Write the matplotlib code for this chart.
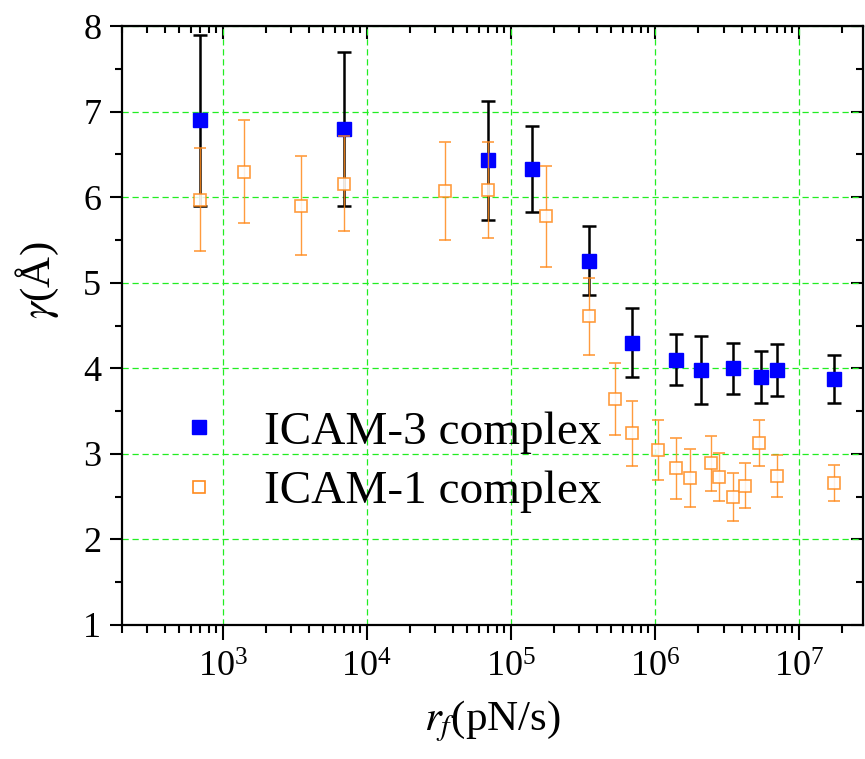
import matplotlib
matplotlib.use('Agg')
import matplotlib.pyplot as plt
from matplotlib.lines import Line2D
from matplotlib.ticker import LogLocator, MultipleLocator, NullFormatter

plt.rcParams['font.family'] = ['Liberation Serif', 'DejaVu Serif']
plt.rcParams['mathtext.fontset'] = 'stix'

# ICAM-3 complex (filled blue squares)
icam3_rf = [700, 7000, 7e4, 1.4e5, 3.5e5, 7e5, 1.4e6, 2.1e6, 3.5e6, 5.5e6, 7e6, 1.75e7]
icam3_gamma = [6.90, 6.80, 6.43, 6.33, 5.26, 4.30, 4.10, 3.98, 4.00, 3.90, 3.98, 3.87]
icam3_err = [1.0, 0.9, 0.70, 0.50, 0.40, 0.40, 0.30, 0.40, 0.30, 0.30, 0.30, 0.28]

# ICAM-1 complex (open orange squares)
icam1_rf = [700, 1400, 3500, 7000, 3.5e4, 7e4, 1.75e5, 3.5e5, 5.3e5, 7e5, 1.05e6,
            1.4e6, 1.75e6, 2.45e6, 2.8e6, 3.5e6, 4.2e6, 5.25e6, 7e6, 1.75e7]
icam1_gamma = [5.97, 6.30, 5.90, 6.16, 6.07, 6.08, 5.78, 4.61, 3.64, 3.24, 3.04,
               2.83, 2.72, 2.89, 2.73, 2.50, 2.63, 3.13, 2.74, 2.66]
icam1_err = [0.60, 0.60, 0.58, 0.56, 0.57, 0.56, 0.59, 0.45, 0.42, 0.38, 0.35,
             0.36, 0.34, 0.32, 0.28, 0.28, 0.26, 0.27, 0.25, 0.21]

labels = ['ICAM-3 complex', 'ICAM-1 complex']
orange = '#ff8a1c'

fig = plt.figure(figsize=(8.65, 7.59), dpi=100)
ax = fig.add_axes([0.141, 0.1766, 0.857, 0.789])

ax.errorbar(icam3_rf, icam3_gamma, yerr=icam3_err, fmt='s', color='black',
            mfc='#0000ff', mec='#0000ff', ms=9.5, elinewidth=1.8, capsize=4.8,
            capthick=1.8, zorder=3)
ax.errorbar(icam1_rf, icam1_gamma, yerr=icam1_err, fmt='s', color=orange,
            mfc='white', mec=orange, ms=9, mew=1.2, elinewidth=1.0, capsize=4.4,
            capthick=1.0, alpha=0.85, zorder=4)

ax.set_xscale('log')
ax.set_xlim(200, 2.8e7)
ax.set_ylim(1, 8)
ax.yaxis.set_major_locator(MultipleLocator(1))
ax.yaxis.set_minor_locator(MultipleLocator(0.5))
ax.xaxis.set_major_locator(LogLocator(base=10, numticks=20))
ax.xaxis.set_minor_locator(LogLocator(base=10, subs=range(2, 10), numticks=50))
ax.xaxis.set_minor_formatter(NullFormatter())

ax.grid(True, which='major', color='#22ee22', linestyle=(0, (5, 3)), linewidth=0.9)
ax.set_axisbelow(True)

for s in ax.spines.values():
    s.set_linewidth(1.6)

ax.tick_params(axis='both', which='both', direction='out', width=1.5,
               labelsize=26, top=False, right=False)
ax.tick_params(axis='y', which='major', length=9, pad=6)
ax.tick_params(axis='y', which='minor', length=5)
ax.tick_params(axis='x', which='major', length=11, pad=8)
ax.tick_params(axis='x', which='minor', length=6)

# inward ticks on top and right
ax2 = ax.secondary_xaxis('top')
ax2.set_xticks(ax.get_xticks(minor=False))
ax2.xaxis.set_minor_locator(LogLocator(base=10, subs=range(2, 10), numticks=50))
ax2.tick_params(which='major', direction='in', length=9, width=1.5, labeltop=False)
ax2.tick_params(which='minor', direction='in', length=5, width=1.5)
ax2.xaxis.set_minor_formatter(NullFormatter())
ax2.set_xticklabels([])
ax3 = ax.secondary_yaxis('right')
ax3.yaxis.set_major_locator(MultipleLocator(1))
ax3.yaxis.set_minor_locator(MultipleLocator(0.5))
ax3.tick_params(which='major', direction='in', length=9, width=1.5, labelright=False)
ax3.tick_params(which='minor', direction='in', length=5, width=1.5)

ax.set_xlabel(r'$r_f$(pN/s)', fontsize=31, labelpad=10)
ax.set_ylabel(r'$\gamma$(Å)', fontsize=31)
ax.yaxis.set_label_coords(-0.082, 0.575)

handles = [
    Line2D([], [], ls='none', marker='s', ms=9.5, mfc='#0000ff', mec='#0000ff'),
    Line2D([], [], ls='none', marker='s', ms=9, mfc='white', mec=orange, mew=1.2),
]
ax.legend(handles, labels, loc='center left', bbox_to_anchor=(0.04, 0.272),
          frameon=False, fontsize=34, handlelength=1.0, handletextpad=0.88,
          borderpad=0, labelspacing=0.35)

fig.savefig('out.png', dpi=100)
